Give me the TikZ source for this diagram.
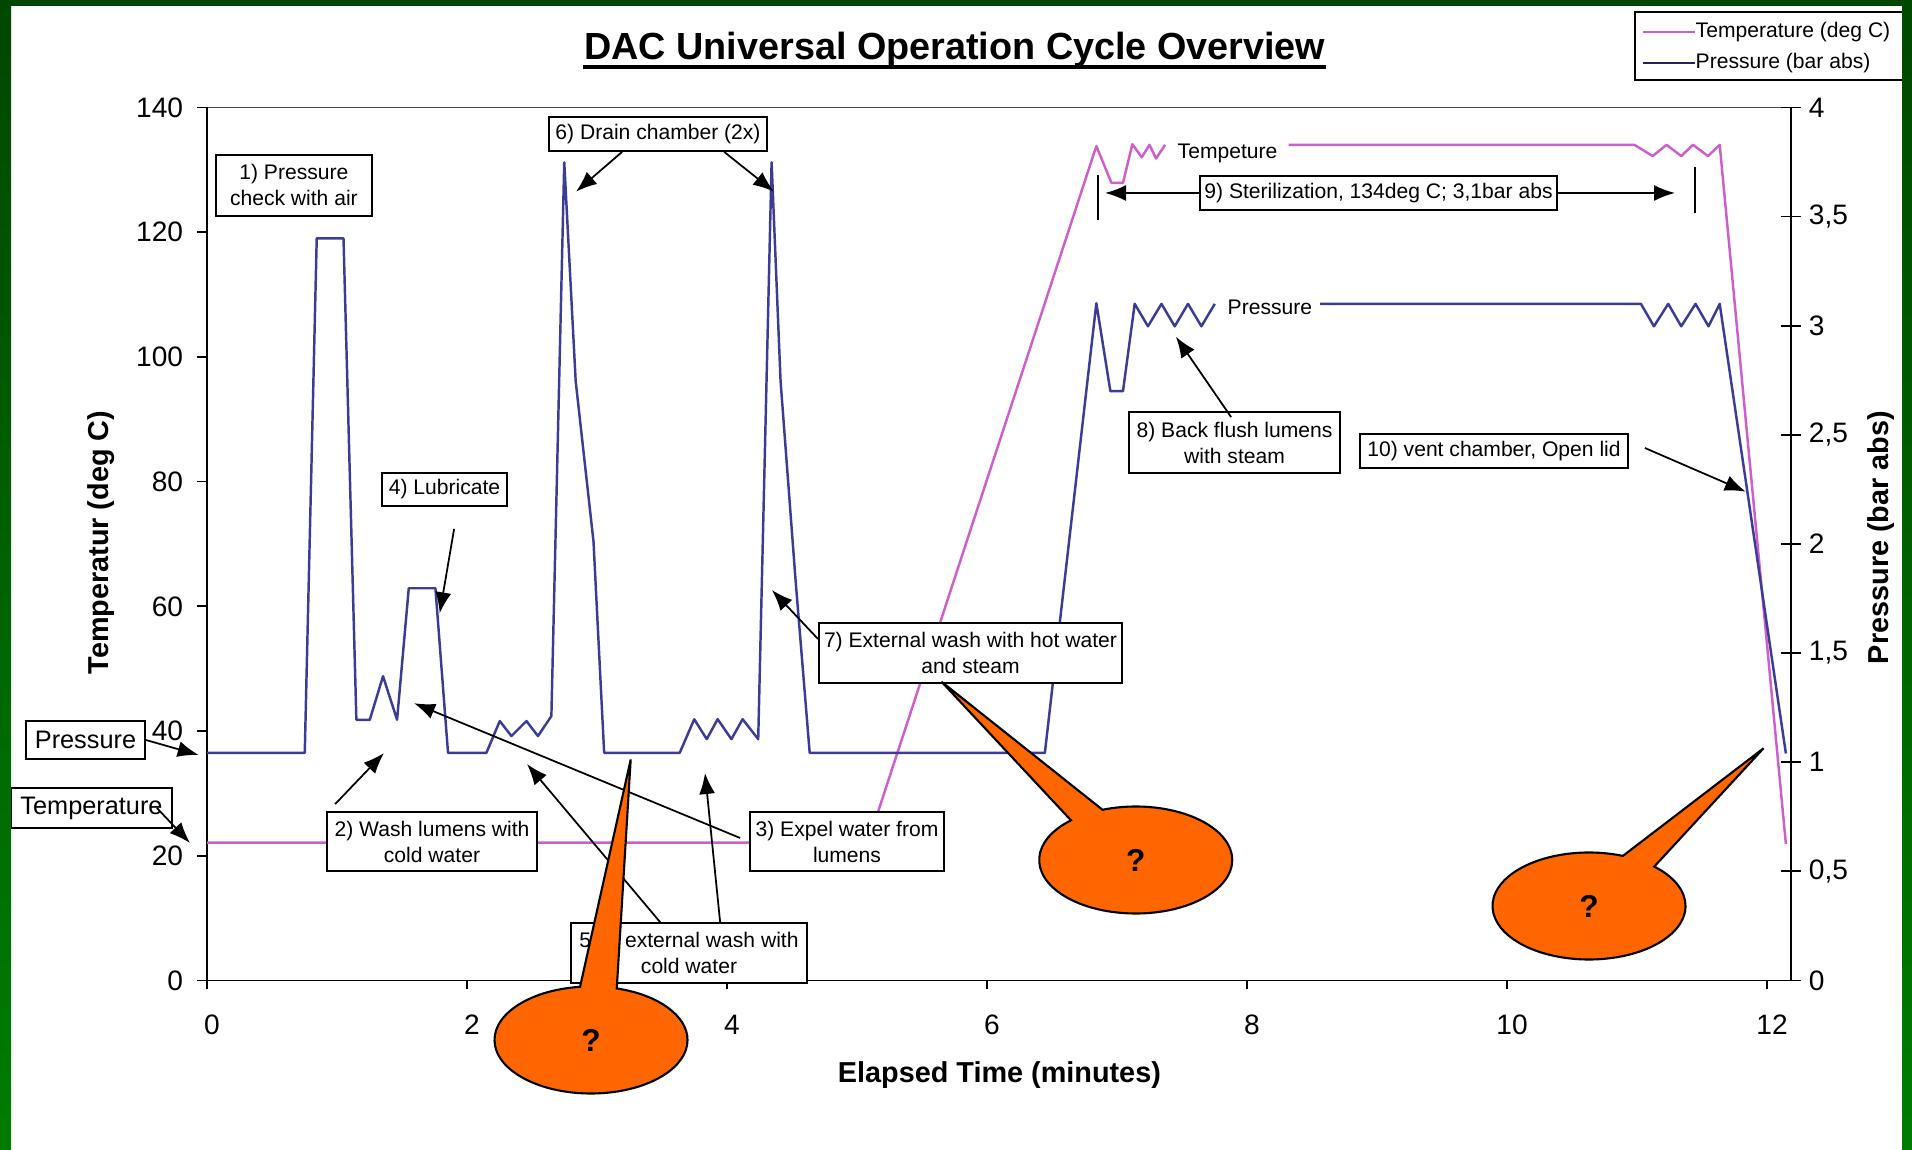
\documentclass[tikz,border=0pt]{standalone}
\usepackage{fontspec}
\setmainfont{Liberation Sans}
\usepackage{xcolor}
\usetikzlibrary{positioning}
\usetikzlibrary{arrows.meta}
\usetikzlibrary{calc}
\usetikzlibrary{shapes.callouts}

\definecolor{frameDark}{RGB}{0,72,0}
\definecolor{frameGreen}{RGB}{0,125,0}
\definecolor{tempcol}{RGB}{205,95,205}
\definecolor{prescol}{RGB}{60,60,150}
\definecolor{bubblecol}{RGB}{255,102,0}

\newcommand{\boxfont}{\fontsize{6}{7.4}\selectfont}
\newcommand{\tagfont}{\fontsize{7.2}{8}\selectfont}
\newcommand{\tickfont}{\fontsize{8}{9}\selectfont}
\newcommand{\axisfont}{\fontsize{8.2}{9}\selectfont\bfseries}
\newcommand{\titlefont}{\fontsize{10.75}{12}\selectfont\bfseries}
\newcommand{\bubblefont}{\fontsize{9}{10}\selectfont\bfseries}

\begin{document}
\begin{tikzpicture}[>={Latex[length=0.21cm,width=0.16cm]},
    stepbox/.style={draw, fill=white, line width=0.5pt, font=\boxfont, align=center, inner sep=0pt},
    tag/.style={draw, fill=white, line width=0.5pt, inner sep=0pt, font=\tagfont},
    bubble/.style={ellipse callout, draw, line width=0.6pt, fill=bubblecol, inner sep=0pt,
                   minimum width=1.93cm, minimum height=1.07cm, font=\bubblefont},
    pointer/.style={->, line width=0.5pt},
    curve/.style={line width=0.7pt, line join=round},
    tick label/.style={font=\tickfont, inner sep=0pt}]

      \useasboundingbox (0,0) rectangle (19.12,11.49);
      \fill[white] (0,0) rectangle (19.12,11.49);

      \node[font=\titlefont, anchor=base, inner sep=0pt] (title) at (9.548,10.89)
            {DAC Universal Operation Cycle Overview};
      \draw[line width=0.9pt] ([yshift=-0.07cm]title.base west) -- ([yshift=-0.07cm]title.base east);

      % axes, ticks and the two curves in minutes / deg C (1 bar = 35 deg)
      \begin{scope}[shift={(2.07,1.685)}, x=1.30cm, y=0.06236cm]
	\draw[black!70, line width=0.5pt] (0,140) -- (12.185,140);
	\draw[line width=0.55pt] (0,0) -- (0,140);
	\draw[line width=0.55pt] (12.185,0) -- (12.185,140);
	\draw[line width=0.55pt] (-0.077,0) -- (12.26,0);
	\foreach \v [count=\i] in {0,20,...,140}
	  \draw[line width=0.5pt] (0,\v) -- ++(-0.1cm,0)
	    node[tick label, anchor=east, xshift=-0.13cm] (yl\i) {\v};
	\foreach \p/\lab [count=\i] in {0/0, 0.5/{0,5}, 1/1, 1.5/{1,5}, 2/2, 2.5/{2,5}, 3/3, 3.5/{3,5}, 4/4}
	  \draw[line width=0.5pt] (12.185,{35*\p}) ++(-0.1cm,0) -- ++(0.2cm,0)
	    node[tick label, anchor=west, xshift=0.07cm] (pl\i) {\lab};
	\foreach \t [count=\i] in {0,2,...,12}{
	  \draw[line width=0.5pt] (\t,0) -- ++(0,-0.08cm);
	  \node[tick label, xshift=0.05cm, yshift=-0.445cm] (xl\i) at (\t,0) {\t};
	}

	% temperature
	\draw[curve, tempcol] (0,22.1) -- (5.084,22.1) -- (6.841,133.8) -- (6.957,127.9)
	  -- (7.046,127.9) -- (7.118,134.1) -- (7.19,132) -- (7.25,134) -- (7.30,131.8) -- (7.37,134);
	\draw[curve, tempcol] (8.32,134) -- (10.98,134) -- (11.12,132.2) -- (11.227,134)
	  -- (11.34,132.2) -- (11.43,134) -- (11.546,132.2) -- (11.636,134) -- (12.145,21.9);

	% pressure
	\draw[curve, prescol] (0,36.5) -- (0.752,36.5) -- (0.844,119) -- (1.05,119)
	  -- (1.149,41.8) -- (1.252,41.8) -- (1.354,48.8) -- (1.462,41.8) -- (1.552,62.9)
	  -- (1.757,62.9) -- (1.854,36.5) -- (2.149,36.5) -- (2.252,41.6) -- (2.342,39.2)
	  -- (2.457,41.6) -- (2.546,39.2) -- (2.649,42.4) -- (2.748,131.2) -- (2.836,96.1)
	  -- (2.973,70.4) -- (3.055,36.5) -- (3.636,36.5) -- (3.748,41.9) -- (3.844,38.7)
	  -- (3.928,41.9) -- (4.034,38.7) -- (4.12,41.9) -- (4.24,38.7) -- (4.343,131.2)
	  -- (4.412,96.1) -- (4.528,64.0) -- (4.636,36.5) -- (6.445,36.5) -- (6.841,108.6)
	  -- (6.949,94.5) -- (7.046,94.5) -- (7.136,108.5) -- (7.238,104.9) -- (7.342,108.5)
	  -- (7.444,104.9) -- (7.546,108.5) -- (7.649,104.9) -- (7.752,108.5);
	\draw[curve, prescol] (8.563,108.5) -- (11.03,108.5) -- (11.13,104.9) -- (11.24,108.5)
	  -- (11.34,104.9) -- (11.45,108.5) -- (11.55,104.9) -- (11.636,108.5) -- (12.145,36.4);
      \end{scope}

      \node[font=\axisfont, rotate=90] (ylab) at (1.012,6.064) {Temperatur (deg C)};
      \node[font=\axisfont, rotate=90] (plab) at (18.81,6.115) {Pressure (bar abs)};
      \node[font=\axisfont] (xlab) at (9.994,0.74) {Elapsed Time (minutes)};

      \node[font=\boxfont, anchor=west, inner sep=0pt] (lblTemp) at (11.77,9.96) {Tempeture};
      \node[font=\boxfont, anchor=west, inner sep=0pt] (lblPres) at (12.27,8.42) {Pressure};

      % legend
      \node[draw, line width=0.5pt, fill=white, minimum width=2.70cm, minimum height=0.68cm,
            inner sep=0pt] (legend) at (17.70,11.03) {};
      \node[font=\boxfont, anchor=west, inner sep=0pt] (lgT) at (16.95,11.17) {Temperature (deg C)};
      \node[font=\boxfont, anchor=west, inner sep=0pt] (lgP) at (16.95,10.86) {Pressure (bar abs)};
      \draw[curve, tempcol] (lgT.west) -- ++(-0.52,0);
      \draw[curve, prescol!60!black] (lgP.west) -- ++(-0.52,0);

      % step boxes
      \node[stepbox, minimum width=1.56cm, minimum height=0.61cm] (b1) at (2.939,9.636) {1) Pressure\\check with air};
      \node[stepbox, minimum width=2.18cm, minimum height=0.34cm] (b6) at (6.58,10.15) {6) Drain chamber (2x)};
      \node[stepbox, minimum width=1.25cm, minimum height=0.33cm] (b4) at (4.445,6.595) {4) Lubricate};
      \node[stepbox, minimum width=2.10cm, minimum height=0.59cm] (b2) at (4.32,3.075) {2) Wash lumens with\\cold water};
      \node[stepbox, minimum width=1.94cm, minimum height=0.59cm] (b3) at (8.47,3.075) {3) Expel water from\\lumens};
      \node[stepbox, minimum width=2.36cm, minimum height=0.60cm] (b5) at (6.89,1.96) {5)\hspace{1.0em} external wash with\\cold water};
      \node[stepbox, minimum width=3.03cm, minimum height=0.60cm] (b7) at (9.705,4.96) {7) External wash with hot water\\and steam};
      \node[stepbox, minimum width=2.11cm, minimum height=0.61cm] (b8) at (12.345,7.065) {8) Back flush lumens\\with steam};
      \node[stepbox, minimum width=2.68cm, minimum height=0.34cm] (b10) at (14.94,6.98) {10) vent chamber, Open lid};
      \node[stepbox, minimum width=3.57cm, minimum height=0.34cm] (b9) at (13.785,9.56) {9) Sterilization, 134deg C; 3,1bar abs};
      \node[tag, minimum width=1.19cm, minimum height=0.38cm] (tagP) at (0.855,4.09) {Pressure};
      \node[tag, minimum width=1.61cm, minimum height=0.40cm] (tagT) at (0.915,3.41) {Temperature};

      % arrow tips
      \coordinate (tipD1) at (5.76,9.573);
      \coordinate (tipD2) at (7.74,9.573);
      \coordinate (tipLub) at (4.397,5.357);
      \coordinate (tipP) at (1.987,3.94);
      \coordinate (tipT) at (1.90,3.06);
      \coordinate (tipW) at (3.84,3.96);
      \coordinate (tipE) at (4.14,4.458);
      \coordinate (tipX1) at (5.27,3.85);
      \coordinate (tipX2) at (7.05,3.76);
      \coordinate (tipH) at (7.719,5.59);
      \coordinate (tipB) at (11.759,8.123);
      \coordinate (tipV) at (17.458,6.573);
      \coordinate (tipS1) at (11.05,9.56);
      \coordinate (tipS2) at (16.75,9.56);
      \coordinate (barS1a) at (10.983,9.74);
      \coordinate (barS1b) at (10.983,9.29);
      \coordinate (barS2a) at (16.95,9.823);
      \coordinate (barS2b) at (16.95,9.357);

      \path[pointer]
	([xshift=0.74cm]b6.south west) edge (tipD1)
	([xshift=1.76cm]b6.south west) edge (tipD2)
	([xshift=0.73cm,yshift=-0.22cm]b4.south west) edge (tipLub)
	(tagP.east) edge (tipP)
	([xshift=-0.16cm]tagT.east) edge (tipT)
	([xshift=0.09cm,yshift=0.07cm]b2.north west) edge (tipW)
	([xshift=-0.09cm,yshift=0.035cm]b3.west) edge (tipE)
	([xshift=0.90cm]b5.north west) edge (tipX1)
	([xshift=1.50cm]b5.north west) edge (tipX2)
	([yshift=-0.17cm]b7.north west) edge (tipH)
	([xshift=1.03cm,yshift=-0.06cm]b8.north west) edge (tipB)
	([xshift=0.16cm,yshift=0.03cm]b10.east) edge (tipV)
	(b9.west) edge (tipS1)
	(b9.east) edge (tipS2);
      \draw[line width=0.5pt] (barS1a) -- (barS1b);
      \draw[line width=0.5pt] (barS2a) -- (barS2b);

      % question bubbles
      \coordinate (tipQ1) at (6.307,3.895);
      \coordinate (tipQ2) at (9.415,4.673);
      \coordinate (tipQ3) at (17.635,4.007);
      \node[bubble, callout absolute pointer={(tipQ1)}, callout pointer arc=22] (q1) at (5.91,1.09) {?};
      \node[bubble, callout absolute pointer={(tipQ2)}, callout pointer arc=22] (q2) at (11.357,2.89) {?};
      \node[bubble, callout absolute pointer={(tipQ3)}, callout pointer arc=22] (q3) at (15.89,2.43) {?};

      % green frame
      \shade[top color=frameDark, bottom color=frameGreen] (0,0) rectangle (0.11,11.49);
      \shade[top color=frameDark, bottom color=frameGreen] (19.02,0) rectangle (19.12,11.49);
      \fill[frameDark] (0,11.43) rectangle (19.12,11.49);
\end{tikzpicture}
\end{document}
